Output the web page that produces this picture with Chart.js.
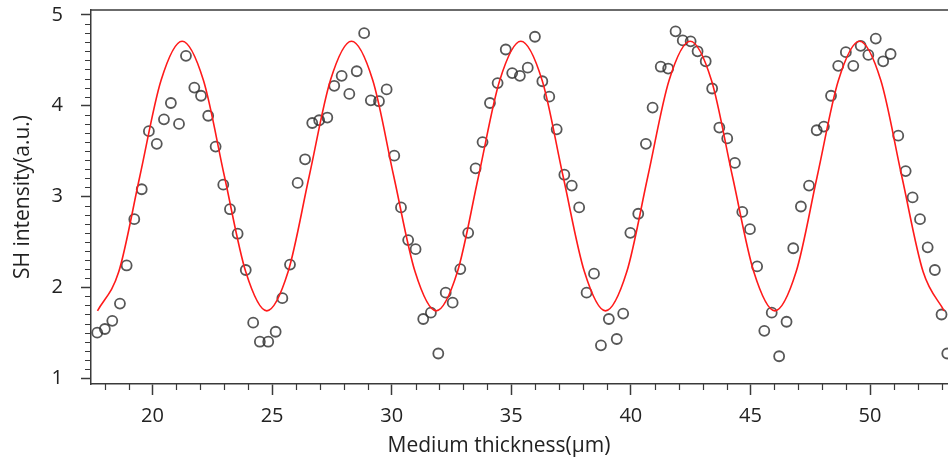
<!DOCTYPE html>
<html lang="en">
<head>
    <meta charset="UTF-8">
    <title>SH intensity vs medium thickness</title>
    <script src="https://cdn.jsdelivr.net/npm/chart.js@4"></script>
    <style>
        body { margin: 0; background: #fff; }
        #wrap { width: 948px; height: 463px; position: relative; }
    </style>
</head>
<body>
    <div id="wrap"><canvas id="shChart"></canvas></div>

    <script>
        // measured points (thickness in um, SH intensity in a.u.)
        const pointX = [17.69, 18.01, 18.32, 18.64, 18.92, 19.24, 19.55, 19.85, 20.18, 20.48,
            20.77, 21.11, 21.40, 21.75, 22.03, 22.33, 22.64, 22.96, 23.24, 23.56,
            23.90, 24.21, 24.49, 24.84, 25.15, 25.43, 25.75, 26.07, 26.38, 26.68,
            26.97, 27.31, 27.60, 27.91, 28.23, 28.54, 28.85, 29.13, 29.47, 29.79,
            30.11, 30.39, 30.69, 31.00, 31.32, 31.64, 31.95, 32.26, 32.55, 32.87,
            33.20, 33.51, 33.80, 34.11, 34.43, 34.77, 35.04, 35.36, 35.69, 35.99,
            36.30, 36.59, 36.90, 37.22, 37.53, 37.84, 38.15, 38.46, 38.75, 39.08,
            39.41, 39.68, 39.98, 40.31, 40.63, 40.91, 41.25, 41.56, 41.87, 42.17,
            42.50, 42.79, 43.13, 43.40, 43.70, 44.03, 44.35, 44.66, 44.98, 45.28,
            45.58, 45.89, 46.20, 46.51, 46.79, 47.11, 47.45, 47.77, 48.07, 48.37,
            48.67, 48.99, 49.30, 49.61, 49.93, 50.24, 50.55, 50.86, 51.18, 51.49,
            51.78, 52.09, 52.41, 52.71, 52.99, 53.23];
        const pointY = [1.50, 1.54, 1.63, 1.82, 2.24, 2.75, 3.08, 3.72, 3.58, 3.85,
            4.03, 3.80, 4.55, 4.20, 4.11, 3.89, 3.55, 3.13, 2.86, 2.59,
            2.19, 1.61, 1.40, 1.40, 1.51, 1.88, 2.25, 3.15, 3.41, 3.81,
            3.84, 3.87, 4.22, 4.33, 4.13, 4.38, 4.80, 4.06, 4.05, 4.18,
            3.45, 2.88, 2.52, 2.42, 1.65, 1.72, 1.27, 1.94, 1.83, 2.20,
            2.60, 3.31, 3.60, 4.03, 4.25, 4.62, 4.36, 4.33, 4.42, 4.76,
            4.27, 4.10, 3.74, 3.24, 3.12, 2.88, 1.94, 2.15, 1.36, 1.65,
            1.43, 1.71, 2.60, 2.81, 3.58, 3.98, 4.43, 4.41, 4.82, 4.72,
            4.71, 4.60, 4.49, 4.19, 3.76, 3.64, 3.37, 2.83, 2.64, 2.23,
            1.52, 1.72, 1.24, 1.62, 2.43, 2.89, 3.12, 3.73, 3.77, 4.11,
            4.44, 4.59, 4.44, 4.66, 4.56, 4.74, 4.49, 4.57, 3.67, 3.28,
            2.99, 2.75, 2.44, 2.19, 1.70, 1.27];

        // fitted curve
        const fitX = [17.70, 18.59, 19.47, 20.36, 21.24, 22.13, 23.01, 23.90,
            24.78, 25.67, 26.55, 27.44, 28.32, 29.21, 30.09, 30.98,
            31.86, 32.75, 33.63, 34.52, 35.40, 36.29, 37.17, 38.06,
            38.94, 39.83, 40.71, 41.60, 42.48, 43.37, 44.25, 45.14,
            46.02, 46.91, 47.79, 48.68, 49.56, 50.45, 51.33, 52.22, 53.10];
        const fitY = [1.74, 2.17, 3.22, 4.28, 4.71, 4.28, 3.22, 2.17,
            1.74, 2.17, 3.22, 4.28, 4.71, 4.28, 3.22, 2.17,
            1.74, 2.17, 3.22, 4.28, 4.71, 4.28, 3.22, 2.17,
            1.74, 2.17, 3.22, 4.28, 4.71, 4.28, 3.22, 2.17,
            1.74, 2.17, 3.22, 4.28, 4.71, 4.28, 3.22, 2.17, 1.74];

        const xTicks = [20, 25, 30, 35, 40, 45, 50];
        const yTicks = [1, 2, 3, 4, 5];

        const axisColor = '#3a3a3a';
        const textColor = '#222';

        // top frame line, minor ticks and the x title
        const framePlugin = {
            id: 'frame',
            afterDraw(chart) {
                const { ctx, chartArea: a, scales: { x, y } } = chart;
                ctx.save();
                ctx.strokeStyle = axisColor;
                ctx.lineWidth = 1.5;
                ctx.beginPath();
                ctx.moveTo(a.left, a.top);
                ctx.lineTo(a.right, a.top);
                ctx.stroke();

                ctx.lineWidth = 1.2;
                ctx.beginPath();
                for (let v = 18; v <= 53; v++) {
                    if (v % 5 === 0) continue;
                    const px = Math.round(x.getPixelForValue(v)) + 0.5;
                    ctx.moveTo(px, a.bottom);
                    ctx.lineTo(px, a.bottom + 6);
                }
                for (let i = 10; i <= 50; i++) {
                    if (i % 10 === 0) continue;
                    const py = Math.round(y.getPixelForValue(i / 10)) + 0.5;
                    ctx.moveTo(a.left - 6, py);
                    ctx.lineTo(a.left, py);
                }
                ctx.stroke();

                ctx.fillStyle = textColor;
                ctx.font = '21px "Open Sans"';
                ctx.textAlign = 'center';
                ctx.textBaseline = 'middle';
                ctx.fillText('Medium thickness(\u03bcm)', 499, 446);
                ctx.restore();
            }
        };

        new Chart('shChart', {
            type: 'scatter',
            data: {
                datasets: [{
                    data: fitX.map((v, i) => ({ x: v, y: fitY[i] })),
                    showLine: true,
                    borderColor: '#ff1a1a',
                    borderWidth: 1.6,
                    pointRadius: 0,
                    cubicInterpolationMode: 'monotone'
                }, {
                    data: pointX.map((v, i) => ({ x: v, y: pointY[i] })),
                    showLine: false,
                    pointRadius: 5,
                    pointBorderWidth: 1.8,
                    pointBorderColor: 'rgba(45, 45, 45, 0.8)',
                    pointBackgroundColor: 'rgba(0, 0, 0, 0)'
                }]
            },
            options: {
                responsive: true,
                maintainAspectRatio: false,
                animation: false,
                layout: { autoPadding: false, padding: { top: 10, right: 0, bottom: 0, left: 0 } },
                plugins: {
                    legend: { display: false },
                    tooltip: { enabled: false }
                },
                scales: {
                    x: {
                        type: 'linear',
                        min: 17.43,
                        max: 53.26,
                        afterBuildTicks: s => { s.ticks = xTicks.map(v => ({ value: v })); },
                        afterFit: s => { s.height = 79; s.paddingLeft = 0; s.paddingRight = 0; },
                        grid: { drawOnChartArea: false, tickLength: 11, tickColor: axisColor, tickWidth: 1.5 },
                        border: { color: axisColor, width: 1.5 },
                        ticks: {
                            font: { family: 'Open Sans', size: 20 },
                            color: textColor,
                            padding: 9,
                            maxRotation: 0
                        }
                    },
                    y: {
                        min: 0.934,
                        max: 5.055,
                        afterBuildTicks: s => { s.ticks = yTicks.map(v => ({ value: v })); },
                        afterFit: s => { s.width = 91; s.paddingTop = 0; s.paddingBottom = 0; },
                        grid: { drawOnChartArea: false, tickLength: 10, tickColor: axisColor, tickWidth: 1.5 },
                        border: { color: axisColor, width: 1.5 },
                        ticks: {
                            font: { family: 'Open Sans', size: 20 },
                            color: textColor,
                            padding: 18
                        },
                        title: {
                            display: true,
                            text: 'SH intensity(a.u.)',
                            font: { family: 'Open Sans', size: 21 },
                            color: textColor,
                            padding: { top: 10, bottom: 0 }
                        }
                    }
                }
            },
            plugins: [framePlugin]
        });
    </script>
</body>
</html>
